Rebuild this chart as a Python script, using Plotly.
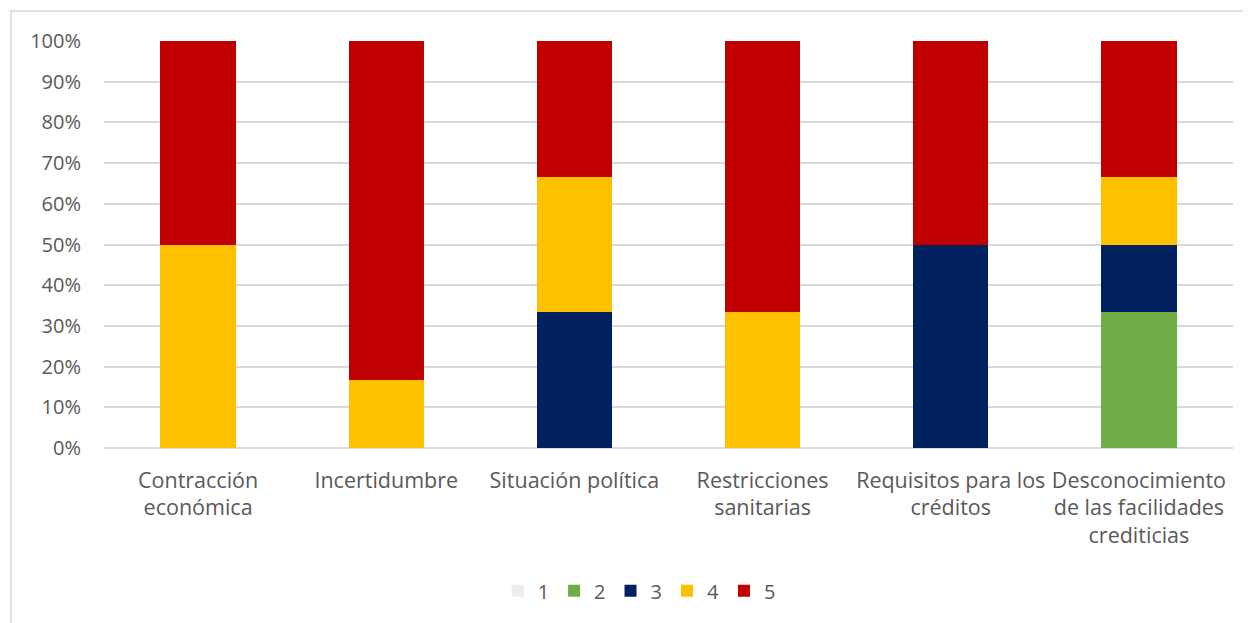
import plotly.graph_objects as go

categories = ["Contracción<br>económica", "Incertidumbre", "Situación política",
              "Restricciones<br>sanitarias", "Requisitos para los<br>créditos",
              "Desconocimiento<br>de las facilidades<br>crediticias"]
series_names = ["1", "2", "3", "4", "5"]
s1 = [0, 0, 0, 0, 0, 0]
s2 = [0, 0, 0, 0, 0, 33.33]
s3 = [0, 0, 33.33, 0, 50, 16.67]
s4 = [50, 16.67, 33.33, 33.33, 0, 16.67]
s5 = [50, 83.33, 33.34, 66.67, 50, 33.33]
colors = ["#ededed", "#70ad47", "#002060", "#ffc000", "#c00000"]

fig = go.Figure()
for name, vals, col in zip(series_names, [s1, s2, s3, s4, s5], colors):
    fig.add_trace(go.Bar(x=categories, y=vals, name=name, marker_color=col,
                         marker_line_width=0))

font_family = "Open Sans, Lato, sans-serif"
fig.update_layout(
    barmode="stack", bargap=0.6,
    width=1243, height=615,
    margin=dict(l=96, r=18, t=33, b=175),
    plot_bgcolor="white", paper_bgcolor="white",
    font=dict(family=font_family, size=20, color="#595959"),
    xaxis=dict(showgrid=False, showline=False, ticks="",
               tickfont=dict(size=21.5), ticklabelstandoff=17),
    yaxis=dict(range=[0, 100], dtick=10, ticksuffix="%", showgrid=True,
               gridcolor="#d9d9d9", gridwidth=1.5, zeroline=True,
               zerolinecolor="#d9d9d9", zerolinewidth=1.5, showline=False,
               ticklabelstandoff=22, tickfont=dict(size=20)),
    legend=dict(orientation="h", x=0.474, xanchor="center", y=-0.351,
                yanchor="middle", font=dict(size=20), traceorder="normal",
                itemwidth=30),
    showlegend=True,
)
fig.add_shape(type="rect", xref="paper", yref="paper",
              x0=-0.0824, y0=-0.5, x1=1.2, y1=1.0737,
              line=dict(color="#d9d9d9", width=1.5), layer="below")
fig.write_html("out.html")
